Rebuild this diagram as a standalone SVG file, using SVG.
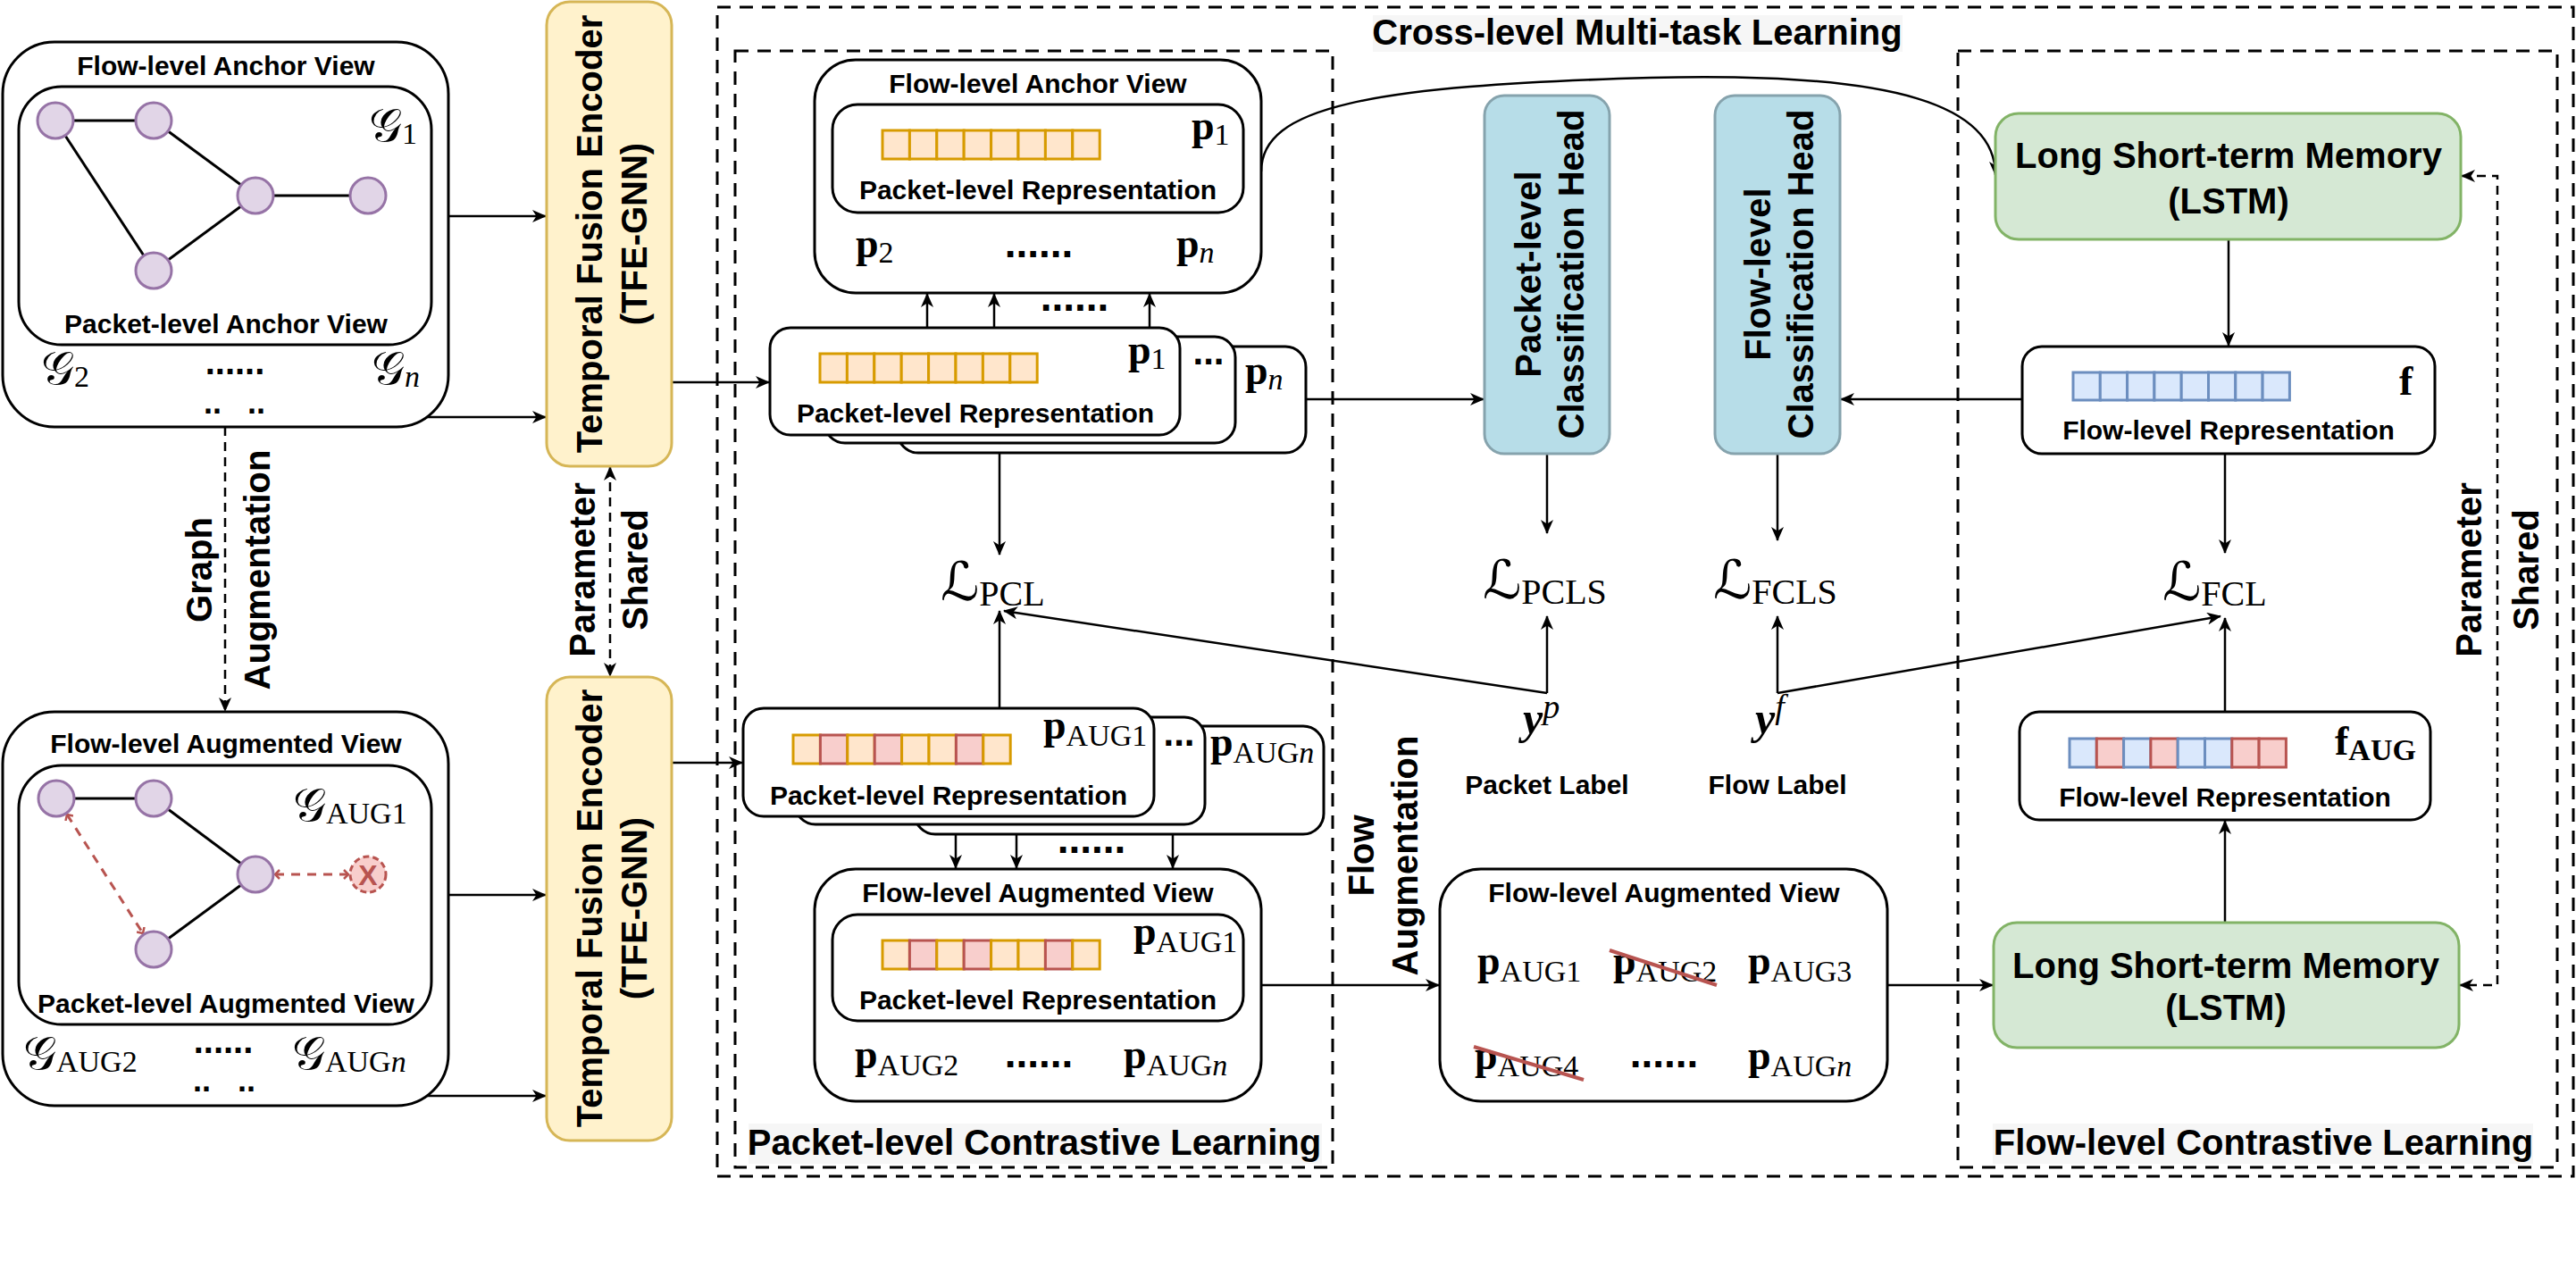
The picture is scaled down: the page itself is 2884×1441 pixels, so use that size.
<svg xmlns="http://www.w3.org/2000/svg" width="2884" height="1441" viewBox="0 0 2884 1441">
<defs>
<style>
.sans{font-family:"Liberation Sans",Arial,sans-serif;font-weight:bold;text-anchor:middle;fill:#000}
.s30{font-size:30px}
.s40{font-size:40px}
.box{fill:#fff;stroke:#000;stroke-width:3}
.dash{fill:none;stroke:#000;stroke-width:3;stroke-dasharray:15 10}
.ln{fill:none;stroke:#000;stroke-width:2.5}
.arr{marker-end:url(#ah)}
.bi{marker-start:url(#ah);marker-end:url(#ah)}
.dl{stroke-dasharray:10 7}
.ed{stroke:#000;stroke-width:3}
.red{fill:none;stroke:#b85450;stroke-width:3;stroke-dasharray:10 8;marker-start:url(#tk);marker-end:url(#tk)}
.tfe{fill:#fff2cc;stroke:#d6b656;stroke-width:3}
.head{fill:#b7dde8;stroke:#86a3ad;stroke-width:3}
.lstm{fill:#d5e8d4;stroke:#82b366;stroke-width:3}
.nd{fill:#e1d5e7;stroke:#9673a6;stroke-width:3}
.co{fill:#ffe6cc;stroke:#d79b00;stroke-width:3}
.cr{fill:#f8cecc;stroke:#b85450;stroke-width:3}
.cb{fill:#dae8fc;stroke:#6c8ebf;stroke-width:3}
.m{font-family:"Liberation Serif","Times New Roman",serif;fill:#000}
.mb{font-weight:bold;font-size:46px}
.sub{font-weight:normal;font-size:34px;font-style:normal}
.subb{font-weight:bold;font-size:34px}
.it{font-style:italic}
.cal{font-family:"DejaVu Serif","DejaVu Sans",serif;font-size:52px;font-weight:normal}
.calL{font-family:"DejaVu Serif","DejaVu Sans",serif;font-size:60px;font-weight:normal}
.lsub{font-weight:normal;font-size:40px}
.yb{font-weight:bold;font-style:italic;font-size:50px}
.sup{font-weight:normal;font-style:italic;font-size:38px}
.dots{font-family:"Liberation Sans",Arial,sans-serif;font-weight:bold;font-size:46px;text-anchor:middle}
.d40{font-size:40px}
.d36{font-size:36px}
.bg{fill:#f6f6f6}
.strike{stroke:#b85450;stroke-width:4}
</style>
<marker id="ah" viewBox="0 0 16 14" refX="15" refY="7" markerWidth="16" markerHeight="14" markerUnits="userSpaceOnUse" orient="auto-start-reverse"><path d="M0,0 L16,7 L0,14 L4.5,7 z" fill="#000"/></marker>
<marker id="tk" viewBox="-6 -6 12 12" refX="0" refY="0" markerWidth="12" markerHeight="12" markerUnits="userSpaceOnUse" orient="auto-start-reverse"><path d="M-5,-5 L0,0 L-5,5" fill="none" stroke="#b85450" stroke-width="2.5"/></marker>
<g id="rowO"><rect class="co" x="0" y="0" width="30.4" height="32"/><rect class="co" x="30.4" y="0" width="30.4" height="32"/><rect class="co" x="60.8" y="0" width="30.4" height="32"/><rect class="co" x="91.2" y="0" width="30.4" height="32"/><rect class="co" x="121.6" y="0" width="30.4" height="32"/><rect class="co" x="152" y="0" width="30.4" height="32"/><rect class="co" x="182.4" y="0" width="30.4" height="32"/><rect class="co" x="212.8" y="0" width="30.4" height="32"/></g>
<g id="rowR"><rect class="co" x="0" y="0" width="30.4" height="32"/><rect class="cr" x="30.4" y="0" width="30.4" height="32"/><rect class="co" x="60.8" y="0" width="30.4" height="32"/><rect class="cr" x="91.2" y="0" width="30.4" height="32"/><rect class="co" x="121.6" y="0" width="30.4" height="32"/><rect class="co" x="152" y="0" width="30.4" height="32"/><rect class="cr" x="182.4" y="0" width="30.4" height="32"/><rect class="co" x="212.8" y="0" width="30.4" height="32"/></g>
<g id="rowB"><rect class="cb" x="0" y="0" width="30.3" height="31"/><rect class="cb" x="30.3" y="0" width="30.3" height="31"/><rect class="cb" x="60.6" y="0" width="30.3" height="31"/><rect class="cb" x="90.9" y="0" width="30.3" height="31"/><rect class="cb" x="121.2" y="0" width="30.3" height="31"/><rect class="cb" x="151.5" y="0" width="30.3" height="31"/><rect class="cb" x="181.8" y="0" width="30.3" height="31"/><rect class="cb" x="212.1" y="0" width="30.3" height="31"/></g>
<g id="rowBR"><rect class="cb" x="0" y="0" width="30.3" height="32"/><rect class="cr" x="30.3" y="0" width="30.3" height="32"/><rect class="cb" x="60.6" y="0" width="30.3" height="32"/><rect class="cr" x="90.9" y="0" width="30.3" height="32"/><rect class="cb" x="121.2" y="0" width="30.3" height="32"/><rect class="cb" x="151.5" y="0" width="30.3" height="32"/><rect class="cr" x="181.8" y="0" width="30.3" height="32"/><rect class="cr" x="212.1" y="0" width="30.3" height="32"/></g>
</defs>
<rect x="0" y="0" width="2884" height="1441" fill="#fff"/>

<!-- containers -->
<g id="cross-level">
<rect class="dash" x="803" y="8" width="2078" height="1309"/>
<rect class="bg" x="1537" y="17" width="593" height="41"/>
<text class="sans s40" x="1833" y="50">Cross-level Multi-task Learning</text>
</g>
<g id="packet-cl">
<rect class="dash" x="823" y="57" width="669" height="1250"/>
<rect class="bg" x="838" y="1258" width="642" height="45"/>
<text class="sans s40" x="1158" y="1293">Packet-level Contrastive Learning</text>
</g>
<g id="flow-cl">
<rect class="dash" x="2192" y="57" width="671" height="1250"/>
<rect class="bg" x="2231" y="1258" width="605" height="45"/>
<text class="sans s40" x="2534" y="1293">Flow-level Contrastive Learning</text>
</g>

<!-- connectors -->
<g id="connectors">
<path class="ln arr" d="M483,242 H611"/>
<path class="ln arr" d="M72,467 H611"/>
<path class="ln arr" d="M72,442 V466"/>
<path class="ln arr" d="M213,442 V466"/>
<path class="ln arr" d="M262,442 V466"/>
<path class="ln arr" d="M312,442 V466"/>
<path class="ln arr" d="M444,442 V466"/>
<path class="ln arr" d="M483,1002 H611"/>
<path class="ln arr" d="M71,1227 H611"/>
<path class="ln arr" d="M97,1200 V1226"/>
<path class="ln arr" d="M202,1200 V1226"/>
<path class="ln arr" d="M250,1200 V1226"/>
<path class="ln arr" d="M301,1200 V1226"/>
<path class="ln arr" d="M405,1200 V1226"/>
<path class="ln arr dl" d="M252,478 V796"/>
<path class="ln bi dl" d="M683,523 V757"/>
<path class="ln arr" d="M752,428 H861"/>
<path class="ln arr" d="M752,854 H831"/>
<path class="ln arr" d="M1038,367 V329"/>
<path class="ln arr" d="M1113,367 V329"/>
<path class="ln arr" d="M1287,367 V329"/>
<path class="ln arr" d="M1119,507 V621"/>
<path class="ln arr" d="M1119,793 V684"/>
<path class="ln arr" d="M1462,447 H1661"/>
<path class="ln arr" d="M1070,934 V972"/>
<path class="ln arr" d="M1138,934 V972"/>
<path class="ln arr" d="M1313,934 V972"/>
<path class="ln arr" d="M1412,1103 H1611"/>
<path class="ln arr" d="M2113,1103 H2231"/>
<path class="ln arr" d="M1732,508 V597"/>
<path class="ln arr" d="M1990,508 V605"/>
<path class="ln arr" d="M1732,776 V690"/>
<path class="ln arr" d="M1732,776 L1124,684"/>
<path class="ln arr" d="M1990,776 V690"/>
<path class="ln arr" d="M1990,776 L2486,690"/>
<path class="ln arr" d="M1412,192 C1412,120 1530,96 1848,87 C2130,80 2234,120 2234,196"/>
<path class="ln arr" d="M2495,268 V387"/>
<path class="ln arr" d="M2264,447 H2061"/>
<path class="ln arr" d="M2491,508 V619"/>
<path class="ln arr" d="M2491,797 V692"/>
<path class="ln arr" d="M2491,1033 V919"/>
<path class="ln bi dl" d="M2756,197 H2796 V1103 H2754"/>
</g>

<!-- left: anchor view -->
<g id="anchor-view">
<rect class="box" x="3" y="47" width="499" height="431" rx="58"/>
<text class="sans s30" x="253" y="84">Flow-level Anchor View</text>
<rect class="box" x="21" y="97" width="462" height="289" rx="48"/>
<line class="ed" x1="62" y1="135" x2="172" y2="135"/>
<line class="ed" x1="62" y1="135" x2="172" y2="303"/>
<line class="ed" x1="172" y1="135" x2="286" y2="219"/>
<line class="ed" x1="286" y1="219" x2="412" y2="219"/>
<line class="ed" x1="286" y1="219" x2="172" y2="303"/>
<circle class="nd" cx="62" cy="135" r="20"/>
<circle class="nd" cx="172" cy="135" r="20"/>
<circle class="nd" cx="286" cy="219" r="20"/>
<circle class="nd" cx="412" cy="219" r="20"/>
<circle class="nd" cx="172" cy="303" r="20"/>
<text class="m cal" x="413" y="158">𝒢<tspan class="m sub" dy="3">1</tspan></text>
<text class="sans s30" x="253" y="373">Packet-level Anchor View</text>
<text class="m cal" x="46" y="430">𝒢<tspan class="m sub" dy="3">2</tspan></text>
<text class="dots d40" x="263" y="419">......</text>
<text class="m cal" x="416" y="430">𝒢<tspan class="m sub" dy="3" style="font-style:italic">n</tspan></text>
<text class="dots d36" x="238" y="463">..</text>
<text class="dots d36" x="287" y="463">..</text>
</g>

<!-- left: augmented view -->
<g id="augmented-view">
<rect class="box" x="3" y="797" width="499" height="441" rx="58"/>
<text class="sans s30" x="253" y="843">Flow-level Augmented View</text>
<rect class="box" x="21" y="857" width="462" height="290" rx="48"/>
<line class="ed" x1="63" y1="894" x2="172" y2="894"/>
<line class="ed" x1="172" y1="894" x2="286" y2="979"/>
<line class="ed" x1="286" y1="979" x2="172" y2="1063"/>
<path class="red" d="M75,912 L160,1045"/>
<path class="red" d="M308,979 L390,979"/>
<circle class="nd" cx="63" cy="894" r="20"/>
<circle class="nd" cx="172" cy="894" r="20"/>
<circle class="nd" cx="286" cy="979" r="20"/>
<circle class="nd" cx="172" cy="1063" r="20"/>
<circle cx="412" cy="979" r="20" fill="#f8cecc" stroke="#b85450" stroke-width="3" stroke-dasharray="7 4"/>
<text class="sans" x="412" y="991" style="font-size:32px;fill:#b85450">X</text>
<text class="m cal" x="328" y="919">𝒢<tspan class="m sub" dy="3">AUG</tspan><tspan class="m sub">1</tspan></text>
<text class="sans s30" x="253" y="1134">Packet-level Augmented View</text>
<text class="m cal" x="26" y="1197">𝒢<tspan class="m sub" dy="3">AUG</tspan><tspan class="m sub">2</tspan></text>
<text class="dots d40" x="250" y="1179">......</text>
<text class="m cal" x="327" y="1197">𝒢<tspan class="m sub" dy="3">AUG</tspan><tspan class="m sub" style="font-style:italic">n</tspan></text>
<text class="dots d36" x="226" y="1222">..</text>
<text class="dots d36" x="276" y="1222">..</text>
</g>

<g id="graph-aug-label">
<text class="sans s40" transform="translate(237,638) rotate(-90)">Graph</text>
<text class="sans s40" transform="translate(302,638) rotate(-90)">Augmentation</text>
</g>

<g id="tfe1">
<rect class="tfe" x="612" y="2" width="140" height="520" rx="26"/>
<text class="sans s40" transform="translate(674,262) rotate(-90)">Temporal Fusion Encoder</text>
<text class="sans s40" transform="translate(724,262) rotate(-90)">(TFE-GNN)</text>
</g>
<g id="tfe2">
<rect class="tfe" x="612" y="758" width="140" height="519" rx="26"/>
<text class="sans s40" transform="translate(674,1017) rotate(-90)">Temporal Fusion Encoder</text>
<text class="sans s40" transform="translate(724,1017) rotate(-90)">(TFE-GNN)</text>
</g>
<g id="param-shared-left">
<text class="sans s40" transform="translate(666,638) rotate(-90)">Parameter</text>
<text class="sans s40" transform="translate(725,638) rotate(-90)">Shared</text>
</g>

<!-- packet-level: anchor flow view -->
<g id="flow-anchor-view">
<rect class="box" x="912" y="67" width="500" height="261" rx="46"/>
<text class="sans s30" x="1162" y="104">Flow-level Anchor View</text>
<rect class="box" x="932" y="117" width="460" height="121" rx="28"/>
<use href="#rowO" x="988" y="146"/>
<text class="m mb" x="1334" y="156">p<tspan class="m sub" dy="6">1</tspan></text>
<text class="sans s30" x="1162" y="223">Packet-level Representation</text>
<text class="m mb" x="958" y="288">p<tspan class="m sub" dy="6">2</tspan></text>
<text class="dots" x="1163" y="288">......</text>
<text class="m mb" x="1317" y="288">p<tspan class="m sub" dy="6" style="font-style:italic">n</tspan></text>
</g>
<text class="dots" x="1203" y="348">......</text>

<g id="packet-stack">
<rect class="box" x="1005" y="388" width="457" height="119" rx="23"/>
<rect class="box" x="923" y="377" width="460" height="119" rx="23"/>
<rect class="box" x="862" y="367" width="459" height="120" rx="23"/>
<use href="#rowO" x="918" y="396"/>
<text class="m mb" x="1263" y="407">p<tspan class="m sub" dy="6">1</tspan></text>
<text class="dots" x="1353" y="408" style="font-size:42px">...</text>
<text class="m mb" x="1394" y="430">p<tspan class="m sub" dy="6" style="font-style:italic">n</tspan></text>
<text class="sans s30" x="1092" y="473">Packet-level Representation</text>
</g>

<g id="loss-pcl">
<text class="m calL" x="1053" y="672">ℒ<tspan class="m lsub" dy="6">PCL</tspan></text>
</g>

<g id="aug-stack">
<rect class="box" x="1024" y="813" width="458" height="121" rx="23"/>
<rect class="box" x="890" y="803" width="459" height="120" rx="23"/>
<rect class="box" x="832" y="793" width="460" height="121" rx="23"/>
<use href="#rowR" x="888" y="823"/>
<text class="m mb" x="1168" y="827">p<tspan class="m sub" dy="8">AUG</tspan><tspan class="m sub">1</tspan></text>
<text class="dots" x="1320" y="835" style="font-size:42px">...</text>
<text class="m mb" x="1355" y="846">p<tspan class="m sub" dy="8">AUG</tspan><tspan class="m sub" style="font-style:italic">n</tspan></text>
<text class="sans s30" x="1062" y="901">Packet-level Representation</text>
</g>
<text class="dots" x="1222" y="955">......</text>

<g id="flow-aug-view-packet">
<rect class="box" x="912" y="973" width="500" height="260" rx="46"/>
<text class="sans s30" x="1162" y="1010">Flow-level Augmented View</text>
<rect class="box" x="932" y="1024" width="460" height="119" rx="28"/>
<use href="#rowR" x="988" y="1053"/>
<text class="m mb" x="1269" y="1058">p<tspan class="m sub" dy="8">AUG</tspan><tspan class="m sub">1</tspan></text>
<text class="sans s30" x="1162" y="1130">Packet-level Representation</text>
<text class="m mb" x="957" y="1196">p<tspan class="m sub" dy="8">AUG</tspan><tspan class="m sub">2</tspan></text>
<text class="dots" x="1163" y="1195">......</text>
<text class="m mb" x="1258" y="1196">p<tspan class="m sub" dy="8">AUG</tspan><tspan class="m sub" style="font-style:italic">n</tspan></text>
</g>

<g id="flow-aug-label">
<text class="sans s40" transform="translate(1538,958) rotate(-90)">Flow</text>
<text class="sans s40" transform="translate(1587,958) rotate(-90)">Augmentation</text>
</g>

<g id="flow-aug-view">
<rect class="box" x="1612" y="973" width="501" height="260" rx="46"/>
<text class="sans s30" x="1863" y="1010">Flow-level Augmented View</text>
<text class="m mb" x="1654" y="1091">p<tspan class="m sub" dy="8">AUG</tspan><tspan class="m sub">1</tspan></text>
<text class="m mb" x="1806" y="1091">p<tspan class="m sub" dy="8">AUG</tspan><tspan class="m sub">2</tspan></text>
<text class="m mb" x="1957" y="1091">p<tspan class="m sub" dy="8">AUG</tspan><tspan class="m sub">3</tspan></text>
<text class="m mb" x="1651" y="1197">p<tspan class="m sub" dy="8">AUG</tspan><tspan class="m sub">4</tspan></text>
<text class="dots" x="1863" y="1195">......</text>
<text class="m mb" x="1957" y="1197">p<tspan class="m sub" dy="8">AUG</tspan><tspan class="m sub" style="font-style:italic">n</tspan></text>
<line class="strike" x1="1802" y1="1064" x2="1922" y2="1103"/>
<line class="strike" x1="1650" y1="1172" x2="1773" y2="1209"/>
</g>

<g id="packet-head">
<rect class="head" x="1662" y="107" width="140" height="401" rx="22"/>
<text class="sans s40" transform="translate(1725,307) rotate(-90)">Packet-level</text>
<text class="sans s40" transform="translate(1773,307) rotate(-90)">Classification Head</text>
</g>
<g id="flow-head">
<rect class="head" x="1920" y="107" width="140" height="401" rx="22"/>
<text class="sans s40" transform="translate(1982,307) rotate(-90)">Flow-level</text>
<text class="sans s40" transform="translate(2030,307) rotate(-90)">Classification Head</text>
</g>
<g id="loss-pcls">
<text class="m calL" x="1660" y="670">ℒ<tspan class="m lsub" dy="6">PCLS</tspan></text>
</g>
<g id="loss-fcls">
<text class="m calL" x="1918" y="670">ℒ<tspan class="m lsub" dy="6">FCLS</tspan></text>
</g>
<g id="packet-label">
<text class="m yb" x="1705" y="821">y<tspan class="m sup" dy="-17">p</tspan></text>
<text class="sans s30" x="1732" y="889">Packet Label</text>
</g>
<g id="flow-label">
<text class="m yb" x="1965" y="821">y<tspan class="m sup" dy="-17">f</tspan></text>
<text class="sans s30" x="1990" y="889">Flow Label</text>
</g>

<g id="lstm1">
<rect class="lstm" x="2234" y="127" width="521" height="141" rx="26"/>
<text class="sans s40" x="2495" y="188">Long Short-term Memory</text>
<text class="sans s40" x="2495" y="239">(LSTM)</text>
</g>
<g id="flow-rep">
<rect class="box" x="2264" y="388" width="462" height="120" rx="22"/>
<use href="#rowB" x="2321" y="417"/>
<text class="m mb" x="2686" y="442">f</text>
<text class="sans s30" x="2495" y="492">Flow-level Representation</text>
</g>
<g id="loss-fcl">
<text class="m calL" x="2421" y="672">ℒ<tspan class="m lsub" dy="6">FCL</tspan></text>
</g>
<g id="flow-rep-aug">
<rect class="box" x="2261" y="797" width="460" height="121" rx="22"/>
<use href="#rowBR" x="2317" y="827"/>
<text class="m mb" x="2614" y="845">f<tspan class="m subb" dy="6">AUG</tspan></text>
<text class="sans s30" x="2491" y="903">Flow-level Representation</text>
</g>
<g id="lstm2">
<rect class="lstm" x="2232" y="1033" width="521" height="140" rx="26"/>
<text class="sans s40" x="2492" y="1095">Long Short-term Memory</text>
<text class="sans s40" x="2492" y="1142">(LSTM)</text>
</g>
<g id="param-shared-right">
<text class="sans s40" transform="translate(2778,638) rotate(-90)">Parameter</text>
<text class="sans s40" transform="translate(2842,638) rotate(-90)">Shared</text>
</g>
</svg>
